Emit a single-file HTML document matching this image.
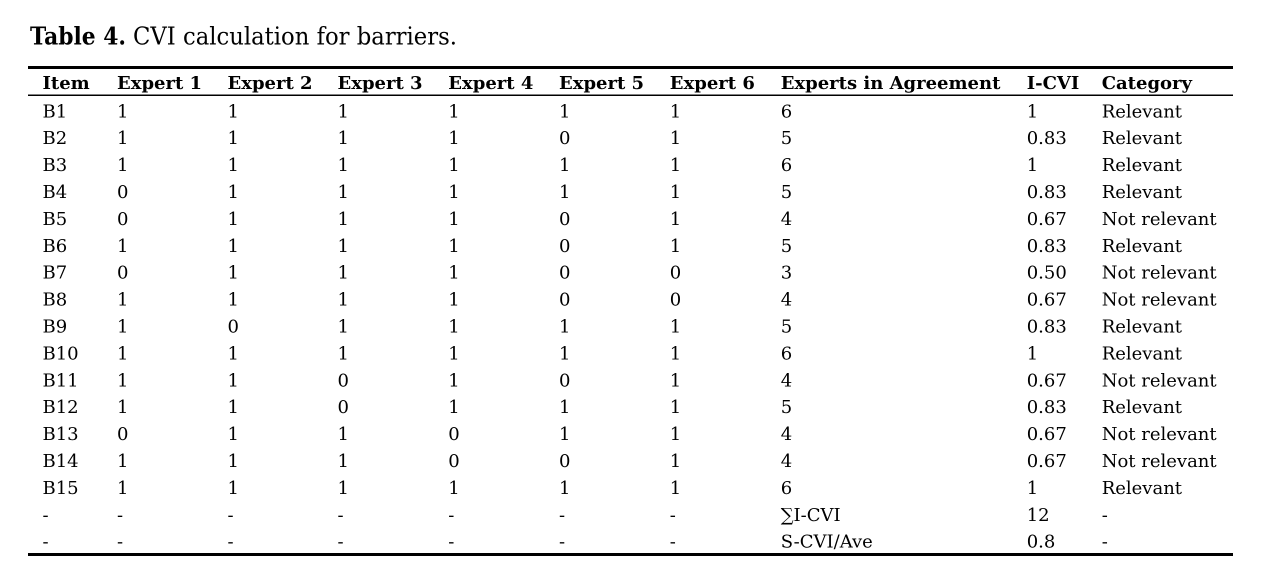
<!DOCTYPE html>
<html><head><meta charset="utf-8">
<style>
html,body{margin:0;padding:0;background:#fff;}
svg{display:block;}
text{font-family:"DejaVu Serif","Liberation Serif",serif;fill:#000;}
.b{font-size:18px;}
.h{font-size:18px;font-weight:bold;}
</style></head><body>
<svg width="1265" height="584" viewBox="0 0 1265 584" xmlns="http://www.w3.org/2000/svg">
<text x="30" y="44.5" style="font-size:24px;font-weight:bold" textLength="96" lengthAdjust="spacingAndGlyphs">Table 4.</text>
<text x="133" y="44.5" style="font-size:24px" textLength="324" lengthAdjust="spacingAndGlyphs">CVI calculation for barriers.</text>
<rect x="28" y="66" width="1205" height="3" fill="#000"/>
<rect x="28" y="94.5" width="1205" height="1.5" fill="#000"/>
<rect x="28" y="553" width="1205" height="3" fill="#000"/>
<g class="h">
<text class="h" x="42.5" y="89">Item</text>
<text class="h" x="117" y="89">Expert 1</text>
<text class="h" x="227.5" y="89">Expert 2</text>
<text class="h" x="337.5" y="89">Expert 3</text>
<text class="h" x="448.3" y="89">Expert 4</text>
<text class="h" x="559" y="89">Expert 5</text>
<text class="h" x="669.8" y="89">Expert 6</text>
<text class="h" x="780.7" y="89">Experts in Agreement</text>
<text class="h" x="1026.7" y="89">I-CVI</text>
<text class="h" x="1101.7" y="89">Category</text>
</g>
<g class="b">
<g transform="translate(0,117.3)">
<text class="b" x="42.5">B1</text><text class="b" x="117">1</text><text class="b" x="227.5">1</text><text class="b" x="337.5">1</text><text class="b" x="448.3">1</text><text class="b" x="559">1</text><text class="b" x="669.8">1</text><text class="b" x="780.7">6</text><text class="b" x="1026.7">1</text><text class="b" x="1101.7">Relevant</text>
</g>
<g transform="translate(0,144.2)">
<text class="b" x="42.5">B2</text><text class="b" x="117">1</text><text class="b" x="227.5">1</text><text class="b" x="337.5">1</text><text class="b" x="448.3">1</text><text class="b" x="559">0</text><text class="b" x="669.8">1</text><text class="b" x="780.7">5</text><text class="b" x="1026.7">0.83</text><text class="b" x="1101.7">Relevant</text>
</g>
<g transform="translate(0,171.1)">
<text class="b" x="42.5">B3</text><text class="b" x="117">1</text><text class="b" x="227.5">1</text><text class="b" x="337.5">1</text><text class="b" x="448.3">1</text><text class="b" x="559">1</text><text class="b" x="669.8">1</text><text class="b" x="780.7">6</text><text class="b" x="1026.7">1</text><text class="b" x="1101.7">Relevant</text>
</g>
<g transform="translate(0,198)">
<text class="b" x="42.5">B4</text><text class="b" x="117">0</text><text class="b" x="227.5">1</text><text class="b" x="337.5">1</text><text class="b" x="448.3">1</text><text class="b" x="559">1</text><text class="b" x="669.8">1</text><text class="b" x="780.7">5</text><text class="b" x="1026.7">0.83</text><text class="b" x="1101.7">Relevant</text>
</g>
<g transform="translate(0,224.9)">
<text class="b" x="42.5">B5</text><text class="b" x="117">0</text><text class="b" x="227.5">1</text><text class="b" x="337.5">1</text><text class="b" x="448.3">1</text><text class="b" x="559">0</text><text class="b" x="669.8">1</text><text class="b" x="780.7">4</text><text class="b" x="1026.7">0.67</text><text class="b" x="1101.7">Not relevant</text>
</g>
<g transform="translate(0,251.8)">
<text class="b" x="42.5">B6</text><text class="b" x="117">1</text><text class="b" x="227.5">1</text><text class="b" x="337.5">1</text><text class="b" x="448.3">1</text><text class="b" x="559">0</text><text class="b" x="669.8">1</text><text class="b" x="780.7">5</text><text class="b" x="1026.7">0.83</text><text class="b" x="1101.7">Relevant</text>
</g>
<g transform="translate(0,278.7)">
<text class="b" x="42.5">B7</text><text class="b" x="117">0</text><text class="b" x="227.5">1</text><text class="b" x="337.5">1</text><text class="b" x="448.3">1</text><text class="b" x="559">0</text><text class="b" x="669.8">0</text><text class="b" x="780.7">3</text><text class="b" x="1026.7">0.50</text><text class="b" x="1101.7">Not relevant</text>
</g>
<g transform="translate(0,305.6)">
<text class="b" x="42.5">B8</text><text class="b" x="117">1</text><text class="b" x="227.5">1</text><text class="b" x="337.5">1</text><text class="b" x="448.3">1</text><text class="b" x="559">0</text><text class="b" x="669.8">0</text><text class="b" x="780.7">4</text><text class="b" x="1026.7">0.67</text><text class="b" x="1101.7">Not relevant</text>
</g>
<g transform="translate(0,332.5)">
<text class="b" x="42.5">B9</text><text class="b" x="117">1</text><text class="b" x="227.5">0</text><text class="b" x="337.5">1</text><text class="b" x="448.3">1</text><text class="b" x="559">1</text><text class="b" x="669.8">1</text><text class="b" x="780.7">5</text><text class="b" x="1026.7">0.83</text><text class="b" x="1101.7">Relevant</text>
</g>
<g transform="translate(0,359.4)">
<text class="b" x="42.5">B10</text><text class="b" x="117">1</text><text class="b" x="227.5">1</text><text class="b" x="337.5">1</text><text class="b" x="448.3">1</text><text class="b" x="559">1</text><text class="b" x="669.8">1</text><text class="b" x="780.7">6</text><text class="b" x="1026.7">1</text><text class="b" x="1101.7">Relevant</text>
</g>
<g transform="translate(0,386.3)">
<text class="b" x="42.5">B11</text><text class="b" x="117">1</text><text class="b" x="227.5">1</text><text class="b" x="337.5">0</text><text class="b" x="448.3">1</text><text class="b" x="559">0</text><text class="b" x="669.8">1</text><text class="b" x="780.7">4</text><text class="b" x="1026.7">0.67</text><text class="b" x="1101.7">Not relevant</text>
</g>
<g transform="translate(0,413.2)">
<text class="b" x="42.5">B12</text><text class="b" x="117">1</text><text class="b" x="227.5">1</text><text class="b" x="337.5">0</text><text class="b" x="448.3">1</text><text class="b" x="559">1</text><text class="b" x="669.8">1</text><text class="b" x="780.7">5</text><text class="b" x="1026.7">0.83</text><text class="b" x="1101.7">Relevant</text>
</g>
<g transform="translate(0,440.1)">
<text class="b" x="42.5">B13</text><text class="b" x="117">0</text><text class="b" x="227.5">1</text><text class="b" x="337.5">1</text><text class="b" x="448.3">0</text><text class="b" x="559">1</text><text class="b" x="669.8">1</text><text class="b" x="780.7">4</text><text class="b" x="1026.7">0.67</text><text class="b" x="1101.7">Not relevant</text>
</g>
<g transform="translate(0,467)">
<text class="b" x="42.5">B14</text><text class="b" x="117">1</text><text class="b" x="227.5">1</text><text class="b" x="337.5">1</text><text class="b" x="448.3">0</text><text class="b" x="559">0</text><text class="b" x="669.8">1</text><text class="b" x="780.7">4</text><text class="b" x="1026.7">0.67</text><text class="b" x="1101.7">Not relevant</text>
</g>
<g transform="translate(0,493.9)">
<text class="b" x="42.5">B15</text><text class="b" x="117">1</text><text class="b" x="227.5">1</text><text class="b" x="337.5">1</text><text class="b" x="448.3">1</text><text class="b" x="559">1</text><text class="b" x="669.8">1</text><text class="b" x="780.7">6</text><text class="b" x="1026.7">1</text><text class="b" x="1101.7">Relevant</text>
</g>
<g transform="translate(0,520.8)">
<text class="b" x="42.5">-</text><text class="b" x="117">-</text><text class="b" x="227.5">-</text><text class="b" x="337.5">-</text><text class="b" x="448.3">-</text><text class="b" x="559">-</text><text class="b" x="669.8">-</text><text class="b" x="780.7">∑I-CVI</text><text class="b" x="1026.7">12</text><text class="b" x="1101.7">-</text>
</g>
<g transform="translate(0,547.7)">
<text class="b" x="42.5">-</text><text class="b" x="117">-</text><text class="b" x="227.5">-</text><text class="b" x="337.5">-</text><text class="b" x="448.3">-</text><text class="b" x="559">-</text><text class="b" x="669.8">-</text><text class="b" x="780.7">S-CVI/Ave</text><text class="b" x="1026.7">0.8</text><text class="b" x="1101.7">-</text>
</g>
</g>
</svg>
</body></html>
